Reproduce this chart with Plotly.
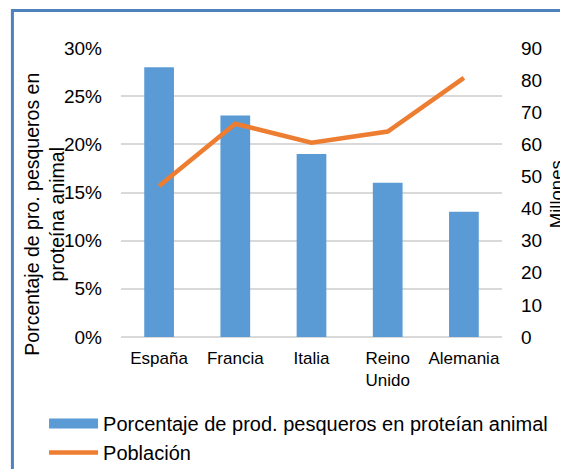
import plotly.graph_objects as go

# data
paises = ['España', 'Francia', 'Italia', 'Reino<br>Unido', 'Alemania']
porcentaje_pesca = [0.28, 0.23, 0.19, 0.16, 0.13]
poblacion_millones = [47.0, 66.4, 60.5, 64.0, 80.7]

FONT = "Liberation Sans, Arial, sans-serif"
BLUE = '#5B9BD5'
ORANGE = '#ED7D31'
GRID = '#D9D9D9'

fig = go.Figure()

fig.add_trace(go.Bar(
    x=paises,
    y=porcentaje_pesca,
    name='Porcentaje de prod. pesqueros en proteían animal',
    marker=dict(color=BLUE, line=dict(width=0)),
    yaxis='y',
    showlegend=False,
))

# legend entry for the bars drawn as a wide block, like the original
fig.add_trace(go.Scatter(
    x=[None],
    y=[None],
    name='Porcentaje de prod. pesqueros en proteían animal',
    mode='lines',
    line=dict(color=BLUE, width=12),
    yaxis='y',
))

fig.add_trace(go.Scatter(
    x=paises,
    y=poblacion_millones,
    name='Población',
    mode='lines',
    line=dict(color=ORANGE, width=4.5),
    yaxis='y2',
))

# the page adds an 8px body margin, so the figure is shifted up/left by that
fig.update_layout(
    width=568,
    height=469,
    margin=dict(l=113, r=74, t=40, b=140, autoexpand=False),
    plot_bgcolor='white',
    paper_bgcolor='white',
    font=dict(family=FONT, size=18, color='#000000'),
    bargap=0.61,
    showlegend=True,
    legend=dict(
        x=-0.202, y=-0.232, xanchor='left', yanchor='top',
        font=dict(size=20), itemwidth=49, tracegroupgap=0,
        bgcolor='rgba(0,0,0,0)',
    ),
    xaxis=dict(
        tickfont=dict(size=17),
        showgrid=False,
        showline=False,
        ticks='',
        ticklabelstandoff=9,
        automargin=False,
    ),
    yaxis=dict(
        range=[0, 0.30],
        dtick=0.05,
        tickformat='.0%',
        showgrid=True,
        gridcolor=GRID,
        gridwidth=1.5,
        zeroline=True,
        zerolinecolor=GRID,
        zerolinewidth=1.5,
        ticks='',
        ticklabelstandoff=18,
        tickfont=dict(size=19),
        automargin=False,
    ),
    yaxis2=dict(
        range=[0, 90],
        dtick=10,
        overlaying='y',
        side='right',
        showgrid=False,
        zeroline=False,
        ticks='',
        ticklabelstandoff=18,
        tickfont=dict(size=19),
        automargin=False,
    ),
)

# axis titles placed as in the original (left one overlaps the tick labels)
fig.add_annotation(
    text='Porcentaje de pro. pesqueros en<br>proteína animal',
    xref='paper', yref='paper', x=-0.2, y=0.426,
    xanchor='center', yanchor='middle', textangle=-90,
    showarrow=False, font=dict(size=19.5),
)
fig.add_annotation(
    text='Millones',
    xref='paper', yref='paper', x=1.145, y=0.495,
    xanchor='center', yanchor='middle', textangle=-90,
    showarrow=False, font=dict(size=18.5),
)

# chart frame, cropped at right and bottom
fig.add_shape(
    type='rect', xref='paper', yref='paper',
    x0=-0.285, x1=1.3, y0=-0.6, y1=1.130,
    line=dict(color='#4F81BD', width=3),
    fillcolor='rgba(0,0,0,0)', layer='below',
)

fig.write_html("out.html")
